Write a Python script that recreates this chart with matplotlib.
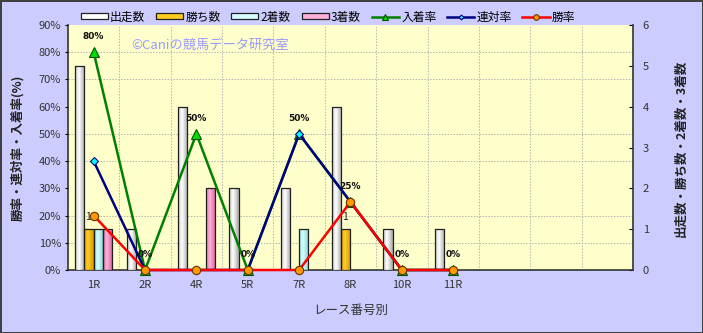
import numpy as np
import matplotlib
matplotlib.use('Agg')
import matplotlib.pyplot as plt
from matplotlib.ticker import FuncFormatter
from matplotlib.colors import LinearSegmentedColormap
from matplotlib.patches import Patch
from matplotlib.lines import Line2D

plt.rcParams['font.family'] = ['Noto Sans CJK JP', 'DejaVu Sans']

# データ
races = ['1R', '2R', '4R', '5R', '7R', '8R', '10R', '11R']
n_slots = 11

starts = [5, 1, 4, 2, 2, 4, 1, 1]
wins = [1, 0, 0, 0, 0, 1, 0, 0]
seconds = [1, 0, 0, 0, 1, 0, 0, 0]
thirds = [1, 0, 2, 0, 0, 0, 0, 0]

place_rate = [80, 0, 50, 0, 50, 25, 0, 0]
top2_rate = [40, 0, 0, 0, 50, 25, 0, 0]
win_rate = [20, 0, 0, 0, 0, 25, 0, 0]

bar_series = [
    ('出走数', starts, '#a8a8a8', '#ffffff'),
    ('勝ち数', wins, '#d79a00', '#ffcc22'),
    ('2着数', seconds, '#7fcfcf', '#d8ffff'),
    ('3着数', thirds, '#d0609a', '#ffb0d8'),
]
line_series = [
    ('入着率', place_rate, '#008000', '^', '#00dd00', '#005000'),
    ('連対率', top2_rate, '#000080', 'D', '#00ffff', '#000080'),
    ('勝率', win_rate, '#ff0000', 'o', '#ff9900', '#663300'),
]

W, H = 703, 333
fig = plt.figure(figsize=(W / 100, H / 100), dpi=100)
fig.patch.set_facecolor('#ccccff')
fig.patch.set_edgecolor('#404040')
fig.patch.set_linewidth(2)

ax_cnt = fig.add_axes([68 / W, 1 - 270 / H, (633 - 68) / W, (270 - 25) / H])
ax_cnt.set_facecolor('#ffffcc')
ax_pct = ax_cnt.twinx()

x = np.arange(len(races))
bw = 0.18
offsets = [-1.5, -0.5, 0.5, 1.5]

grad = np.linspace(0, 1, 64)
grad = 1 - np.abs(grad - 0.4) / 0.6
grad = grad.reshape(1, -1)

legend_handles = []
for (name, vals, dark, light), off in zip(bar_series, offsets):
    rects = ax_cnt.bar(x + off * bw, vals, bw, facecolor=light, edgecolor='#202020',
                       linewidth=0.9, zorder=3)
    cmap = LinearSegmentedColormap.from_list(name, [dark, light])
    for r in rects:
        if r.get_height() <= 0:
            r.set_visible(False)
            continue
        im = ax_cnt.imshow(grad, extent=[r.get_x(), r.get_x() + r.get_width(), 0, r.get_height()],
                           aspect='auto', cmap=cmap, vmin=0, vmax=1, zorder=3.1)
        im.set_clip_path(r)
        r.set_facecolor('none')
        r.set_zorder(3.2)
    legend_handles.append(Patch(facecolor=light, edgecolor='#202020', linewidth=0.9, label=name))

# 勝ち数のラベル
for xi, v in zip(x, wins):
    if v > 0:
        ax_cnt.annotate(str(v), (xi - 0.5 * bw, v), xytext=(-1, 9), textcoords='offset points',
                        ha='center', va='center', fontsize=7.5, color='#222222', zorder=6)

for name, vals, color, marker, mfc, mec in line_series:
    ms = 7 if marker == '^' else (4.5 if marker == 'D' else 6)
    ax_pct.plot(x, vals, color=color, linewidth=1.8, marker=marker, markersize=ms,
                markerfacecolor=mfc, markeredgecolor=mec, markeredgewidth=0.8,
                clip_on=False, zorder=5, label=name)
    legend_handles.append(Line2D([0], [0], color=color, linewidth=1.8, marker=marker,
                                 markersize=ms - 2, markerfacecolor=mfc, markeredgecolor=mec,
                                 markeredgewidth=0.8, label=name))

for xi, v in zip(x, place_rate):
    ax_pct.annotate(f'{v}%', (xi, v), xytext=(0, 11), textcoords='offset points',
                    ha='center', va='center', fontsize=6.5, fontweight='bold',
                    family='DejaVu Sans', color='#111111', zorder=7)

# 軸設定
ax_cnt.set_xlim(-0.5, n_slots - 0.5)
ax_cnt.set_ylim(0, 6)
ax_pct.set_ylim(0, 90)

ax_cnt.set_xticks(x)
ax_cnt.set_xticklabels(races, fontsize=8, color='#333333')
ax_cnt.set_xticks(np.arange(0.5, n_slots - 0.5, 1), minor=True)
ax_cnt.set_yticks(np.arange(0, 7, 1))
ax_cnt.set_yticks(np.arange(0, 6.001, 6 / 9), minor=True)
ax_cnt.yaxis.tick_right()
ax_cnt.tick_params(axis='x', which='both', length=0, pad=7)
ax_cnt.tick_params(axis='y', which='major', direction='in', length=3, pad=7,
                   labelsize=8, labelcolor='#333333', right=True, left=False)
ax_cnt.tick_params(axis='y', which='minor', length=0)
ax_cnt.grid(which='minor', color='#b4b4b4', linestyle=(0, (1.5, 1.5)), linewidth=0.7, zorder=0)
ax_cnt.set_axisbelow(True)

ax_pct.yaxis.tick_left()
ax_pct.set_yticks(np.arange(0, 91, 10))
ax_pct.yaxis.set_major_formatter(FuncFormatter(lambda v, p: f'{v:.0f}%'))
ax_pct.tick_params(axis='y', direction='out', length=2, pad=3, labelsize=8,
                   labelcolor='#333333', left=True, right=False)

for s in ax_pct.spines.values():
    s.set_visible(False)
ax_cnt.spines['top'].set_visible(False)
for k in ['left', 'right', 'bottom']:
    ax_cnt.spines[k].set_color('#333333')
    ax_cnt.spines[k].set_linewidth(1.2)

fig.text(18 / W, 1 - 148 / H, '勝率・連対率・入着率(%)', rotation=90, ha='center', va='center',
         fontsize=9, fontweight='bold', color='#222222')
fig.text(681 / W, 1 - 148 / H, '出走数・勝ち数・2着数・3着数', rotation=90, ha='center', va='center',
         fontsize=9, fontweight='bold', color='#222222')
fig.text(351 / W, 1 - 310 / H, 'レース番号別', ha='center', va='center', fontsize=9, color='#333333')
fig.text(210 / W, 1 - 45 / H, '©Caniの競馬データ研究室', ha='center', va='center',
         fontsize=9.5, color='#9999ff')

fig.legend(handles=legend_handles, loc='center', bbox_to_anchor=(328 / W, 1 - 17 / H), ncol=7,
           frameon=False, fontsize=8.5, handlelength=2.3, handleheight=0.45, handletextpad=0.2,
           columnspacing=0.9, borderpad=0)

fig.savefig('out.png', dpi=100, facecolor=fig.get_facecolor(), edgecolor=fig.get_edgecolor())
